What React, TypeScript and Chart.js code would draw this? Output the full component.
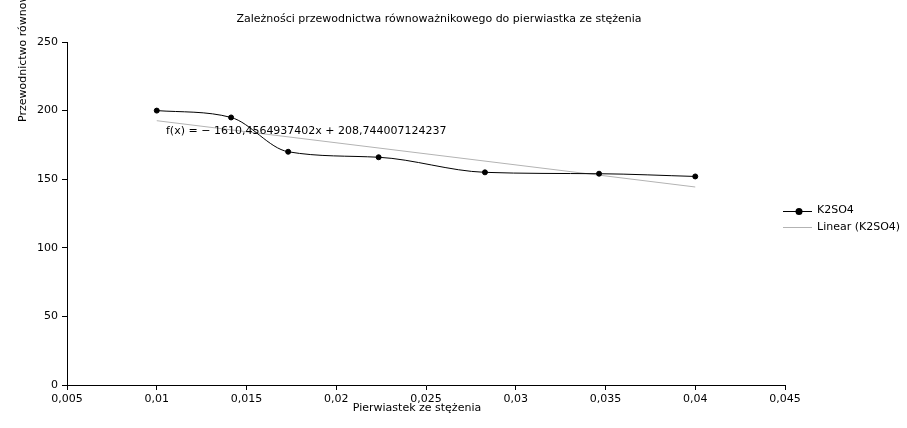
import React, { useEffect, useRef } from "react";
import { Chart, registerables } from "chart.js";

Chart.register(...registerables);

const chartTitle = "Zależności przewodnictwa równoważnikowego do pierwiastka ze stężenia";
const xTitle = "Pierwiastek ze stężenia";
const yTitle = "Przewodnictwo równoważnikowe";
const seriesName = "K2SO4";
const trendName = "Linear (K2SO4)";
const equationText = "f(x) = − 1610,4564937402x + 208,744007124237";

const xValues = [0.01, 0.014142, 0.017321, 0.022361, 0.028284, 0.034641, 0.04];
const yValues = [200, 195, 170, 166, 155, 154, 152];
const trendSlope = -1610.4564937402;
const trendIntercept = 208.744007124237;

const FONT = "'DejaVu Sans', sans-serif";

function fmt(v: number) {
  const s = parseFloat(v.toFixed(6)).toString();
  return s.replace(".", ",");
}

export default function App() {
  const ref = useRef<HTMLCanvasElement | null>(null);

  useEffect(() => {
    document.body.style.margin = "0";
    const canvas = ref.current;
    if (!canvas) return;

    const points = xValues.map((x, i) => ({ x, y: yValues[i] }));
    const xs = [xValues[0], xValues[xValues.length - 1]];
    const trend = xs.map((x) => ({ x, y: trendSlope * x + trendIntercept }));

    const textPlugin = {
      id: "texts",
      afterDraw(chart: any) {
        const ctx = chart.ctx as CanvasRenderingContext2D;
        ctx.save();
        ctx.fillStyle = "#000";
        ctx.font = `11px ${FONT}`;
        ctx.textBaseline = "middle";
        ctx.textAlign = "center";
        ctx.fillText(chartTitle, 439, 19);
        ctx.fillText(xTitle, 417, 408);
        ctx.save();
        ctx.translate(23, 122);
        ctx.rotate(-Math.PI / 2);
        ctx.textAlign = "left";
        ctx.fillText(yTitle, 0, 0);
        ctx.restore();
        ctx.textAlign = "left";
        ctx.fillText(equationText, 166, 131);
        ctx.strokeStyle = "#000";
        ctx.lineWidth = 1;
        ctx.beginPath();
        ctx.moveTo(783, 211.5);
        ctx.lineTo(812, 211.5);
        ctx.stroke();
        ctx.beginPath();
        ctx.arc(799, 211.5, 3.5, 0, Math.PI * 2);
        ctx.fill();
        ctx.fillText(seriesName, 817, 210);
        ctx.strokeStyle = "#b3b3b3";
        ctx.beginPath();
        ctx.moveTo(783, 227.5);
        ctx.lineTo(812, 227.5);
        ctx.stroke();
        ctx.fillStyle = "#000";
        ctx.fillText(trendName, 817, 227);
        ctx.restore();
      },
    };

    const chart = new Chart(canvas, {
      type: "scatter",
      data: {
        datasets: [
          {
            label: trendName,
            data: trend,
            showLine: true,
            borderColor: "#b3b3b3",
            borderWidth: 1,
            pointRadius: 0,
            order: 2,
          },
          {
            label: seriesName,
            data: points,
            showLine: true,
            borderColor: "#000",
            backgroundColor: "#000",
            borderWidth: 1,
            pointRadius: 2.5,
            pointBackgroundColor: "#000",
            pointBorderColor: "#000",
            cubicInterpolationMode: "monotone",
            order: 1,
          },
        ],
      },
      options: {
        animation: false,
        responsive: false,
        layout: { padding: { left: 0, top: 42, right: 122, bottom: 0 } },
        plugins: {
          legend: { display: false },
          title: { display: false },
          tooltip: { enabled: false },
        },
        scales: {
          x: {
            type: "linear",
            min: 0.005,
            max: 0.045,
            afterFit(scale: any) {
              scale.height = 43;
            },
            ticks: {
              stepSize: 0.005,
              color: "#000",
              font: { family: FONT, size: 11 },
              padding: 3,
              maxRotation: 0,
              autoSkip: false,
              callback: (v: any) => fmt(Number(v)),
            },
            grid: {
              drawOnChartArea: false,
              drawTicks: true,
              tickLength: 5,
              color: "#000",
            },
            border: { display: true, color: "#000", width: 1 },
          },
          y: {
            type: "linear",
            min: 0,
            max: 250,
            afterFit(scale: any) {
              scale.width = 67;
            },
            ticks: {
              stepSize: 50,
              color: "#000",
              font: { family: FONT, size: 11 },
              padding: 4,
              callback: (v: any) => fmt(Number(v)),
            },
            grid: {
              drawOnChartArea: false,
              drawTicks: true,
              tickLength: 5,
              color: "#000",
            },
            border: { display: true, color: "#000", width: 1 },
          },
        },
      },
      plugins: [textPlugin],
    });

    return () => chart.destroy();
  }, []);

  return (
    <div style={{ width: 907, height: 428 }}>
      <canvas ref={ref} width={907} height={428} style={{ display: "block" }} />
    </div>
  );
}
